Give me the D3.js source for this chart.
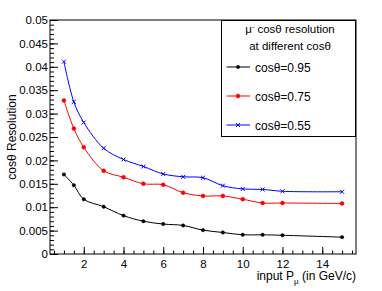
<!DOCTYPE html>
<html>
<head>
<meta charset="utf-8">
<script src="https://cdn.jsdelivr.net/npm/d3@7"></script>
<style>
  body { margin: 0; background: #fff; }
  svg { display: block; font-family: "Liberation Sans", Arial, sans-serif; }
</style>
</head>
<body>
<svg width="382" height="291"></svg>
<script>
// momentum points (GeV/c)
const momenta = [1, 1.5, 2, 3, 4, 5, 6, 7, 8, 9, 10, 11, 12, 15];
// resolution per cos(theta)
const res095 = [0.0170, 0.0147, 0.0117, 0.0101, 0.0082, 0.0070, 0.0064, 0.0061, 0.0051, 0.0046, 0.0041, 0.0041, 0.0040, 0.0036];
const res075 = [0.0328, 0.0268, 0.0228, 0.0178, 0.0164, 0.0150, 0.0148, 0.0131, 0.0124, 0.0124, 0.0117, 0.0109, 0.0109, 0.0108];
const res055 = [0.0411, 0.0325, 0.0281, 0.0226, 0.0202, 0.0187, 0.0171, 0.0165, 0.0163, 0.0146, 0.0139, 0.0138, 0.0134, 0.0133];
const seriesNames = ["cos\u03b8=0.95", "cos\u03b8=0.75", "cos\u03b8=0.55"];
const xTickLabels = [2, 4, 6, 8, 10, 12, 14];

const svg = d3.select("svg");
const mLeft = 50, mRight = 356, mTop = 20, mBottom = 254;

let x = d3.scaleLinear().domain([0.3, 15.7]).range([mLeft, mRight]);
let y = d3.scaleLinear().domain([0, 0.05]).range([mBottom, mTop]);

let series = [
  { name: seriesNames[0], values: res095, color: "#000000", symbol: d3.symbolCircle, size: 9 },
  { name: seriesNames[1], values: res075, color: "#ff0000", symbol: d3.symbolCircle, size: 12 },
  { name: seriesNames[2], values: res055, color: "#0000ff", symbol: d3.symbolTimes, size: 12 }
];

// minor ticks
svg.append("g")
  .attr("transform", `translate(0,${mBottom})`)
  .call(d3.axisBottom(x).tickValues(d3.range(0.5, 15.6, 0.5)).tickSize(-3.5).tickFormat(""))
  .call(g => g.select(".domain").remove());
svg.append("g")
  .attr("transform", `translate(${mLeft},0)`)
  .call(d3.axisLeft(y).tickValues(d3.range(0, 0.0501, 0.001)).tickSize(-4).tickFormat(""))
  .call(g => g.select(".domain").remove());

// major ticks
let xAxis = svg.append("g")
  .attr("transform", `translate(0,${mBottom})`)
  .call(d3.axisBottom(x).tickValues(xTickLabels).tickSize(-7).tickPadding(6).tickFormat(d3.format("d")));
xAxis.select(".domain").remove();

let yAxis = svg.append("g")
  .attr("transform", `translate(${mLeft},0)`)
  .call(d3.axisLeft(y).tickValues(d3.range(0, 0.0501, 0.005)).tickSize(-8).tickPadding(2).tickFormat(d3.format("~g")));
yAxis.select(".domain").remove();

svg.selectAll(".tick text").attr("font-size", 11.5).attr("fill", "#000")
  .attr("font-family", "Liberation Sans, Arial, sans-serif");
svg.selectAll(".tick line").attr("stroke", "#000");

// frame
svg.append("rect")
  .attr("x", mLeft).attr("y", mTop)
  .attr("width", mRight - mLeft).attr("height", mBottom - mTop)
  .attr("fill", "none").attr("stroke", "#000").attr("stroke-width", 1);

// curves
let line = d3.line()
  .x((d, i) => x(momenta[i]))
  .y(d => y(d))
  .curve(d3.curveCatmullRom.alpha(0.5));

series.forEach(s => {
  svg.append("path")
    .attr("d", line(s.values))
    .attr("fill", "none")
    .attr("stroke", s.color)
    .attr("stroke-width", 1);
  svg.append("g").selectAll("path")
    .data(s.values)
    .enter()
    .append("path")
    .attr("transform", (d, i) => `translate(${x(momenta[i])},${y(d)})`)
    .attr("d", d3.symbol().type(s.symbol).size(s.size))
    .attr("fill", s.color)
    .attr("stroke", s.color)
    .attr("stroke-width", s.symbol === d3.symbolTimes ? 1 : 0.5);
});

// legend
let lg = svg.append("g");
lg.append("rect")
  .attr("x", 221.5).attr("y", 20.5).attr("width", 134).attr("height", 116)
  .attr("fill", "#fff").attr("stroke", "#000").attr("stroke-width", 1);

let t1 = lg.append("text").attr("x", 290).attr("y", 33).attr("text-anchor", "middle").attr("font-size", 11.5);
t1.append("tspan").text("\u03bc");
t1.append("tspan").attr("dy", -4).attr("font-size", 7).text("-");
t1.append("tspan").attr("dy", 4).text(" cos\u03b8 resolution");
lg.append("text").attr("x", 290).attr("y", 50).attr("text-anchor", "middle").attr("font-size", 11.5)
  .text("at different cos\u03b8");

series.forEach((s, i) => {
  let cy = 67 + i * 29;
  lg.append("line")
    .attr("x1", 226.5).attr("x2", 250).attr("y1", cy).attr("y2", cy)
    .attr("stroke", s.color).attr("stroke-width", 1);
  lg.append("path")
    .attr("transform", `translate(238,${cy})`)
    .attr("d", d3.symbol().type(s.symbol).size(s.size))
    .attr("fill", s.color).attr("stroke", s.color)
    .attr("stroke-width", s.symbol === d3.symbolTimes ? 1 : 0.5);
  lg.append("text").attr("x", 255).attr("y", cy + 4.5).attr("font-size", 12).text(s.name);
});

// axis titles
svg.append("text")
  .attr("transform", `translate(16,${(mTop + mBottom) / 2}) rotate(-90)`)
  .attr("text-anchor", "middle").attr("font-size", 12)
  .text("cos\u03b8 Resolution");

let xt = svg.append("text").attr("x", mRight).attr("y", 280).attr("text-anchor", "end").attr("font-size", 12);
xt.append("tspan").text("input P");
xt.append("tspan").attr("dy", 4).attr("font-size", 8).text("\u03bc");
xt.append("tspan").attr("dy", -4).text(" (in GeV/c)");
</script>
</body>
</html>
